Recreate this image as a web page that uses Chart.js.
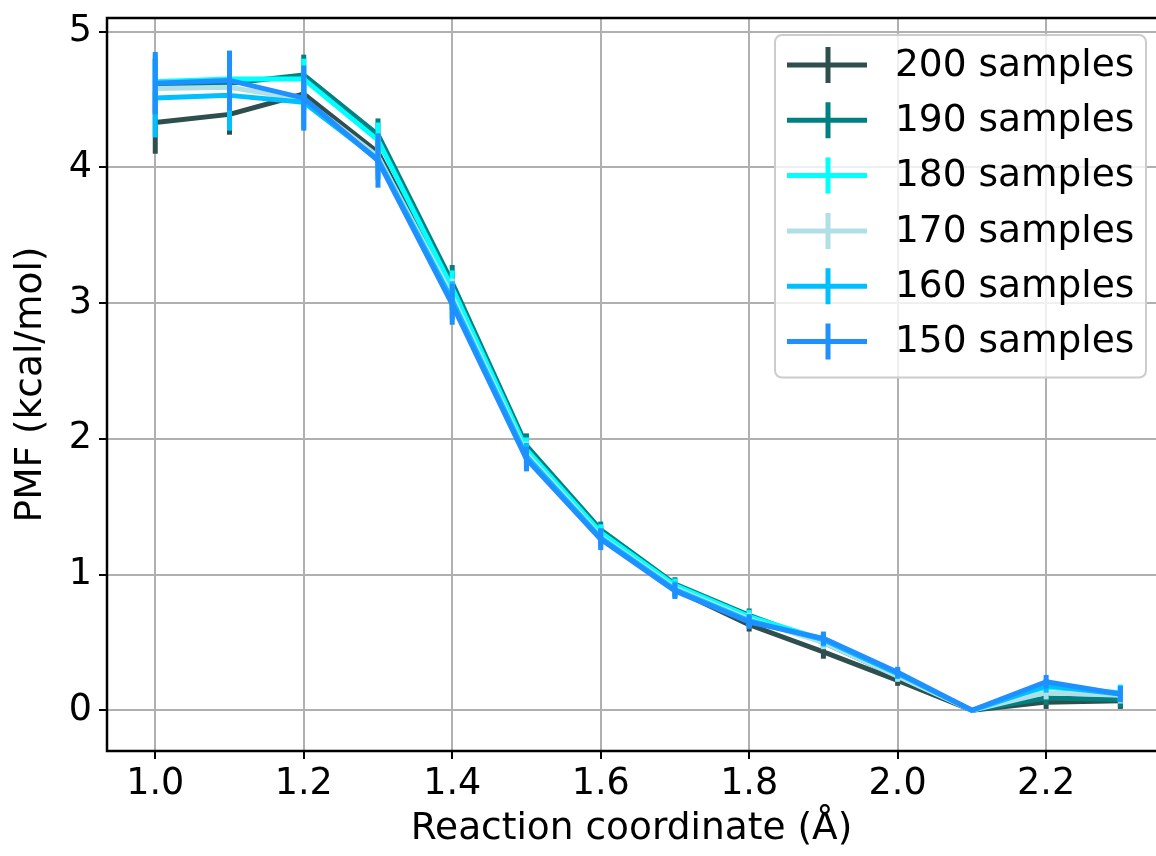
<!DOCTYPE html>
<html>
<head>
<meta charset="utf-8">
<script src="https://cdn.jsdelivr.net/npm/chart.js@4/dist/chart.umd.min.js"></script>
<style>
  html, body { margin: 0; padding: 0; background: #fff; }
  canvas { display: block; }
</style>
</head>
<body>
<canvas id="pmf_chart" width="1156" height="856"></canvas>
<script>
// reaction coordinate (Angstrom)
var x_values = [1.0, 1.1, 1.2, 1.3, 1.4, 1.5, 1.6, 1.7, 1.8, 1.9, 2.0, 2.1, 2.2, 2.3];
var x_ticks = [1.0, 1.2, 1.4, 1.6, 1.8, 2.0, 2.2];
var y_ticks = [0, 1, 2, 3, 4, 5];

var series_labels = ['200 samples', '190 samples', '180 samples', '170 samples', '160 samples', '150 samples'];
var series_colors = ['#2f4f4f', '#008080', '#00ffff', '#b0e0e6', '#00bfff', '#1e90ff'];

// PMF values (kcal/mol)
var pmf_200 = [4.33, 4.39, 4.54, 4.11, 3.08, 1.90, 1.30, 0.89, 0.63, 0.43, 0.22, 0.00, 0.06, 0.07];
var pmf_190 = [4.60, 4.62, 4.68, 4.24, 3.15, 1.95, 1.33, 0.93, 0.70, 0.50, 0.25, 0.00, 0.09, 0.08];
var pmf_180 = [4.63, 4.65, 4.65, 4.20, 3.11, 1.92, 1.31, 0.92, 0.69, 0.52, 0.26, 0.00, 0.17, 0.13];
var pmf_170 = [4.58, 4.59, 4.50, 4.08, 3.05, 1.89, 1.28, 0.90, 0.67, 0.50, 0.25, 0.00, 0.13, 0.11];
var pmf_160 = [4.51, 4.53, 4.48, 4.06, 3.02, 1.87, 1.27, 0.89, 0.66, 0.52, 0.27, 0.00, 0.18, 0.12];
var pmf_150 = [4.62, 4.64, 4.51, 4.05, 2.99, 1.85, 1.26, 0.88, 0.65, 0.53, 0.28, 0.00, 0.21, 0.12];

// error bars (+/-)
var err_200 = [0.23, 0.15, 0.12, 0.12, 0.13, 0.09, 0.06, 0.05, 0.05, 0.05, 0.04, 0.00, 0.05, 0.06];
var err_190 = [0.20, 0.18, 0.15, 0.12, 0.13, 0.09, 0.06, 0.05, 0.05, 0.05, 0.04, 0.00, 0.05, 0.06];
var err_180 = [0.20, 0.18, 0.15, 0.13, 0.13, 0.09, 0.06, 0.05, 0.05, 0.05, 0.04, 0.00, 0.05, 0.06];
var err_170 = [0.22, 0.20, 0.16, 0.14, 0.13, 0.09, 0.06, 0.05, 0.05, 0.05, 0.04, 0.00, 0.05, 0.06];
var err_160 = [0.29, 0.26, 0.20, 0.15, 0.14, 0.10, 0.07, 0.06, 0.05, 0.05, 0.04, 0.00, 0.05, 0.06];
var err_150 = [0.23, 0.22, 0.24, 0.20, 0.15, 0.09, 0.08, 0.06, 0.05, 0.05, 0.04, 0.00, 0.05, 0.06];

var pmf_series = [pmf_200, pmf_190, pmf_180, pmf_170, pmf_160, pmf_150];
var err_series = [err_200, err_190, err_180, err_170, err_160, err_150];

var font_family = '"DejaVu Sans", sans-serif';

var datasets = [];
for (let i = 0; i < pmf_series.length; i++) {
  datasets.push({
    label: series_labels[i],
    data: x_values.map((x, j) => ({ x: x, y: pmf_series[i][j] })),
    errors: err_series[i],
    borderColor: series_colors[i],
    backgroundColor: series_colors[i],
    borderWidth: 5,
    borderJoinStyle: 'round',
    pointRadius: 0,
    tension: 0,
    fill: false,
    order: -i
  });
}

// vertical error bars, drawn right after each dataset's line
const errorBars = {
  id: 'errorBars',
  afterDatasetDraw(chart, args) {
    const ds = chart.data.datasets[args.index];
    const yScale = chart.scales.y;
    const ctx = chart.ctx;
    ctx.save();
    ctx.strokeStyle = ds.borderColor;
    ctx.lineWidth = 5;
    ctx.lineCap = 'butt';
    args.meta.data.forEach((pt, j) => {
      const v = ds.data[j].y, e = ds.errors[j];
      if (!e) return;
      ctx.beginPath();
      ctx.moveTo(pt.x, yScale.getPixelForValue(v - e));
      ctx.lineTo(pt.x, yScale.getPixelForValue(v + e));
      ctx.stroke();
    });
    ctx.restore();
  }
};

// top / left / bottom spines
const spines = {
  id: 'spines',
  afterDatasetsDraw(chart) {
    const a = chart.chartArea, ctx = chart.ctx;
    ctx.save();
    ctx.strokeStyle = '#000';
    ctx.lineWidth = 2.5;
    ctx.beginPath();
    ctx.moveTo(a.right + 2, a.top);
    ctx.lineTo(a.left, a.top);
    ctx.lineTo(a.left, a.bottom);
    ctx.lineTo(a.right + 2, a.bottom);
    ctx.stroke();
    ctx.restore();
  }
};

// matplotlib-like legend box in the upper right
const boxLegend = {
  id: 'boxLegend',
  afterDraw(chart) {
    const a = chart.chartArea, ctx = chart.ctx;
    const w = 371, rowH = 55.3;
    const left = a.right - 10 - w, top = a.top + 17;
    const h = 30 + rowH * (chart.data.datasets.length - 1) + 36;
    ctx.save();
    ctx.beginPath();
    ctx.roundRect(left, top, w, h, 7);
    ctx.fillStyle = 'rgba(255,255,255,0.8)';
    ctx.fill();
    ctx.strokeStyle = '#cccccc';
    ctx.lineWidth = 2;
    ctx.stroke();
    ctx.font = '37.5px ' + font_family;
    ctx.textBaseline = 'middle';
    ctx.textAlign = 'left';
    chart.data.datasets.forEach((ds, i) => {
      const cy = top + 30 + i * rowH;
      ctx.strokeStyle = ds.borderColor;
      ctx.lineWidth = 5;
      ctx.beginPath();
      ctx.moveTo(left + 12, cy);
      ctx.lineTo(left + 92, cy);
      ctx.moveTo(left + 53, cy - 18);
      ctx.lineTo(left + 53, cy + 18);
      ctx.stroke();
      ctx.fillStyle = '#000';
      ctx.fillText(ds.label, left + 120, cy + 1);
    });
    ctx.restore();
  }
};

const config = {
  type: 'line',
  data: { datasets: datasets },
  options: {
    responsive: false,
    animation: false,
    devicePixelRatio: 1,
    layout: { padding: { top: 18, left: 0, right: 0, bottom: 0 } },
    plugins: {
      legend: { display: false },
      tooltip: { enabled: false }
    },
    scales: {
      x: {
        type: 'linear',
        min: 0.935,
        max: 2.348,
        afterBuildTicks: s => { s.ticks = x_ticks.map(v => ({ value: v })); },
        afterFit: s => { s.height = 105; s.paddingLeft = 0; s.paddingRight = 0; },
        grid: { color: '#b0b0b0', lineWidth: 2, tickColor: '#000', tickWidth: 2, tickLength: 8 },
        border: { display: false },
        ticks: {
          color: '#000',
          padding: 4,
          maxRotation: 0,
          font: { family: font_family, size: 36.5 },
          callback: v => v.toFixed(1)
        },
        title: {
          display: true,
          text: 'Reaction coordinate (Å)',
          color: '#000',
          font: { family: font_family, size: 37.5 },
          padding: { top: 0, bottom: 4 }
        }
      },
      y: {
        type: 'linear',
        min: -0.3,
        max: 5.1,
        afterBuildTicks: s => { s.ticks = y_ticks.map(v => ({ value: v })); },
        afterFit: s => { s.width = 107; s.paddingTop = 0; s.paddingBottom = 0; },
        grid: { color: '#b0b0b0', lineWidth: 2, tickColor: '#000', tickWidth: 2, tickLength: 8 },
        border: { display: false },
        ticks: {
          color: '#000',
          padding: 7,
          font: { family: font_family, size: 36.5 },
          callback: v => String(v)
        },
        title: {
          display: true,
          text: 'PMF (kcal/mol)',
          color: '#000',
          font: { family: font_family, size: 37.5 },
          padding: { top: 9, bottom: 0 }
        }
      }
    }
  },
  plugins: [errorBars, spines, boxLegend]
};

const pmfChart = new Chart(document.getElementById('pmf_chart'), config);
</script>
</body>
</html>
